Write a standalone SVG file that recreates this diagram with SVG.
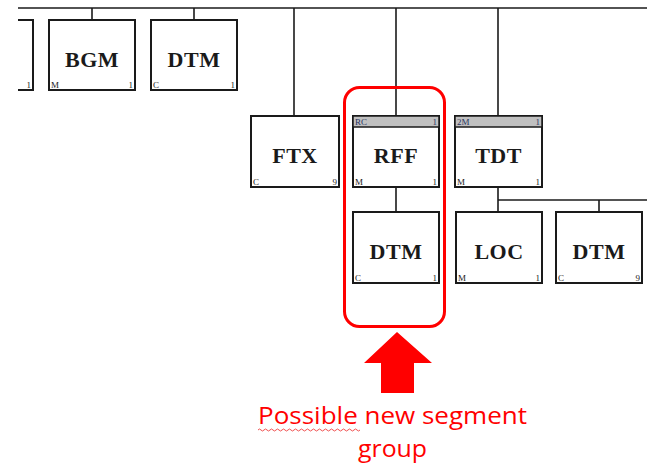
<svg xmlns="http://www.w3.org/2000/svg" width="647" height="466" viewBox="0 0 647 466">
<defs>
<style>
.box{fill:#fff;stroke:#1a1a1a;stroke-width:2}
.band{fill:#c0c0c0;stroke:#1a1a1a;stroke-width:1.5}
.name{font-family:"Liberation Serif",serif;font-weight:bold;font-size:22px;letter-spacing:0.5px;fill:#1a1a1a;text-anchor:middle}
.sm{font-family:"Liberation Serif",serif;font-size:9px;fill:#1a1a1a}
.smr{font-family:"Liberation Serif",serif;font-size:9px;fill:#1a1a1a;text-anchor:end}
.hd{font-family:"Liberation Serif",serif;font-size:9px;fill:#2a3560}
.hdr{font-family:"Liberation Serif",serif;font-size:9px;fill:#2a3560;text-anchor:end}
.ln{stroke:#1a1a1a;stroke-width:1.6;fill:none}
.red{font-family:"Open Sans","Liberation Sans",sans-serif;font-size:23px;fill:#ff0000}
</style>
</defs>
<rect width="647" height="466" fill="#fff"/>
<g id="connectors">
<line class="ln" x1="18" y1="8" x2="647" y2="8"/>
<line class="ln" x1="92" y1="8" x2="92" y2="20"/>
<line class="ln" x1="194" y1="8" x2="194" y2="20"/>
<line class="ln" x1="294" y1="8" x2="294" y2="116"/>
<line class="ln" x1="396" y1="8" x2="396" y2="116"/>
<line class="ln" x1="498" y1="8" x2="498" y2="116"/>
<line class="ln" x1="396" y1="187" x2="396" y2="212"/>
<line class="ln" x1="498" y1="187" x2="498" y2="212"/>
<line class="ln" x1="498" y1="200" x2="647" y2="200"/>
<line class="ln" x1="599" y1="200" x2="599" y2="212"/>
</g>
<g id="node-partial">
<path d="M18 20 H33 V90 H18" class="box"/>
<text class="smr" x="31" y="88">1</text>
</g>
<g id="node-bgm">
<rect class="box" x="49" y="20" width="86" height="70"/>
<text class="name" x="92" y="67">BGM</text>
<text class="sm" x="51" y="88">M</text>
<text class="smr" x="133" y="88">1</text>
</g>
<g id="node-dtm1">
<rect class="box" x="151" y="20" width="86" height="70"/>
<text class="name" x="194" y="67">DTM</text>
<text class="sm" x="153" y="88">C</text>
<text class="smr" x="235" y="88">1</text>
</g>
<g id="node-ftx">
<rect class="box" x="251" y="116" width="88" height="71"/>
<text class="name" x="295" y="163">FTX</text>
<text class="sm" x="253" y="185">C</text>
<text class="smr" x="337" y="185">9</text>
</g>
<g id="node-rff">
<rect class="box" x="353" y="116" width="86" height="71"/>
<rect class="band" x="353" y="116" width="86" height="11"/>
<text class="hd" x="355" y="125">RC</text>
<text class="hdr" x="437" y="125">1</text>
<text class="name" x="396" y="163">RFF</text>
<text class="sm" x="355" y="185">M</text>
<text class="smr" x="437" y="185">1</text>
</g>
<g id="node-tdt">
<rect class="box" x="455" y="116" width="87" height="71"/>
<rect class="band" x="455" y="116" width="87" height="11"/>
<text class="hd" x="457" y="125">2M</text>
<text class="hdr" x="540" y="125">1</text>
<text class="name" x="498.5" y="163">TDT</text>
<text class="sm" x="457" y="185">M</text>
<text class="smr" x="540" y="185">1</text>
</g>
<g id="node-dtm2">
<rect class="box" x="353" y="212" width="86" height="71"/>
<text class="name" x="396" y="259">DTM</text>
<text class="sm" x="355" y="281">C</text>
<text class="smr" x="437" y="281">1</text>
</g>
<g id="node-loc">
<rect class="box" x="456" y="212" width="86" height="71"/>
<text class="name" x="499" y="259">LOC</text>
<text class="sm" x="458" y="281">M</text>
<text class="smr" x="540" y="281">1</text>
</g>
<g id="node-dtm3">
<rect class="box" x="556" y="212" width="86" height="71"/>
<text class="name" x="599" y="259">DTM</text>
<text class="sm" x="558" y="281">C</text>
<text class="smr" x="640" y="281">9</text>
</g>
<g id="annotation">
<rect x="344.5" y="87.5" width="100" height="239" rx="15" ry="15" fill="none" stroke="#ff0000" stroke-width="3"/>
<polygon points="397,332 432,363 414,363 414,393 381,393 381,363 364,363" fill="#ff0000"/>
<text class="red" x="258" y="424" textLength="269" lengthAdjust="spacingAndGlyphs">Possible new segment</text>
<text class="red" x="392.5" y="457" text-anchor="middle" textLength="69" lengthAdjust="spacingAndGlyphs">group</text>
<path d="M258 430 q1.5 -2 3 0 t3 0 t3 0 t3 0 t3 0 t3 0 t3 0 t3 0 t3 0 t3 0 t3 0 t3 0 t3 0 t3 0 t3 0 t3 0 t3 0 t3 0 t3 0 t3 0 t3 0 t3 0 t3 0 t3 0 t3 0 t3 0 t3 0 t3 0 t3 0 t3 0 t3 0 t3 0 t3 0 t3 0" fill="none" stroke="#f05050" stroke-width="1"/>
</g>
</svg>
